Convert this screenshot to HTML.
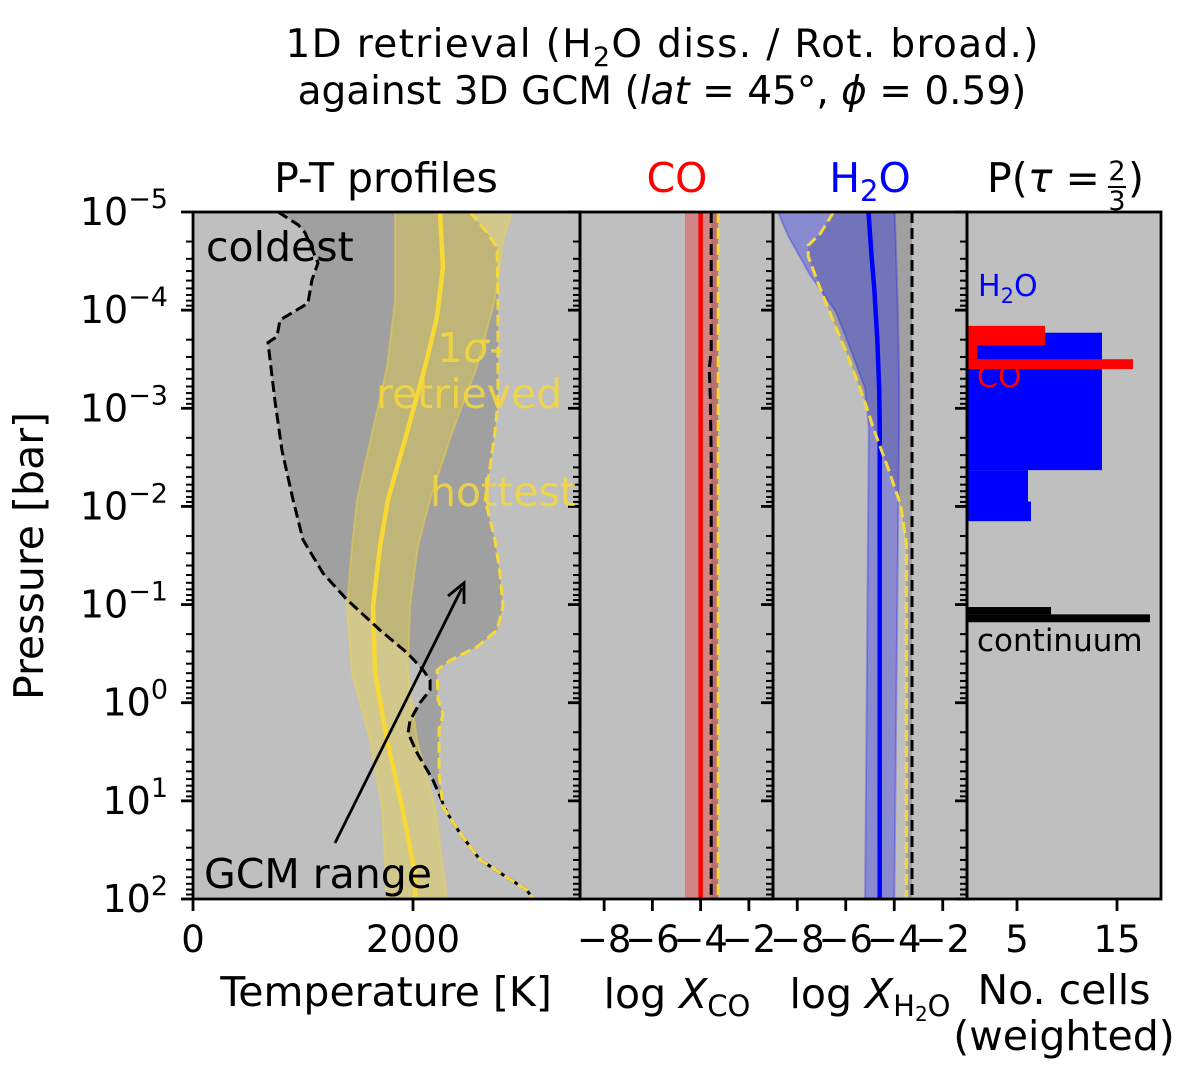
<!DOCTYPE html>
<html><head><meta charset="utf-8"><style>
html,body{margin:0;padding:0;background:#fff;overflow:hidden;}
svg{display:block;font-family:"DejaVu Sans","Liberation Sans",sans-serif;}
</style></head><body>
<svg id="fig" width="1185" height="1083" viewBox="0 0 1185 1083" xmlns="http://www.w3.org/2000/svg">
<g id="bg"></g><g id="marks"></g><g id="axes"></g><g id="labels"></g>
<g id="static">
<text x="662" y="57" text-anchor="middle" font-size="39" textLength="753">1D retrieval (H<tspan font-size="27" dy="9">2</tspan><tspan dy="-9">O diss. / Rot. broad.)</tspan></text>
<text x="662" y="104" text-anchor="middle" font-size="39">against 3D GCM (<tspan font-style="italic">lat</tspan> = 45°, <tspan font-style="italic">ϕ</tspan> = 0.59)</text>
<text x="386" y="192" text-anchor="middle" font-size="41">P-T profiles</text>
<text x="677" y="192" text-anchor="middle" font-size="41" fill="#ff0000">CO</text>
<text x="870" y="192" text-anchor="middle" font-size="41" fill="#0000ff">H<tspan font-size="29" dy="9">2</tspan><tspan dy="-9">O</tspan></text>
<text x="987" y="192" font-size="41">P(<tspan font-style="italic">τ</tspan> =</text>
<text x="1117" y="180" text-anchor="middle" font-size="27">2</text>
<line x1="1108" x2="1126" y1="187" y2="187" stroke="#000" stroke-width="2"/>
<text x="1117" y="210" text-anchor="middle" font-size="27">3</text>
<text x="1128" y="192" font-size="41">)</text>
<text x="43" y="556" text-anchor="middle" font-size="41" transform="rotate(-90 43 556)">Pressure [bar]</text>
<text x="386" y="1006" text-anchor="middle" font-size="41">Temperature [K]</text>
<text x="677" y="1008" text-anchor="middle" font-size="41">log <tspan font-style="italic">X</tspan><tspan font-size="29" dy="8">CO</tspan></text>
<text x="870" y="1008" text-anchor="middle" font-size="41">log <tspan font-style="italic">X</tspan><tspan font-size="29" dy="8">H</tspan><tspan font-size="20" dy="5">2</tspan><tspan font-size="29" dy="-5">O</tspan></text>
<text x="1064" y="1004" text-anchor="middle" font-size="41">No. cells</text>
<text x="1064" y="1050" text-anchor="middle" font-size="41">(weighted)</text>
</g>
<g id="annot">
<text x="206" y="261" font-size="41">coldest</text>
<text x="437" y="362" font-size="41" fill="#f5d83a" fill-opacity="0.85">1<tspan font-style="italic">σ</tspan>-</text>
<text x="376" y="408" font-size="41" fill="#f5d83a" fill-opacity="0.85">retrieved</text>
<text x="430" y="506" font-size="41" fill="#f5d83a" fill-opacity="0.85">hottest</text>
<text x="204" y="888" font-size="41">GCM range</text>
<line x1="335" y1="843" x2="462" y2="588" stroke="#000" stroke-width="2.8"/>
<polyline points="448,596 464,583 464,604" fill="none" stroke="#000" stroke-width="2.8"/>
<text x="978" y="296" font-size="30" fill="#0000ff">H<tspan font-size="21" dy="7">2</tspan><tspan dy="-7">O</tspan></text>
<text x="977" y="387" font-size="30" fill="#ff0000">CO</text>
<text x="977" y="651" font-size="31">continuum</text>
</g>
</svg>
<script>
// ---- data ----
const coldP=[-5,-4.87,-4.79,-4.48,-4.31,-4.07,-3.9,-3.73,-3.67,-3.08,-2.57,-2.07,-1.66,-1.32,-1.05,-0.74,-0.51,-0.35,-0.23,-0.13,0.0,0.18,0.31,0.51,0.79,1.12,1.33,1.6,1.78,1.91,2];
const coldT=[773,955,1018,1136,1082,1045,791,764,682,745,809,909,1000,1182,1400,1700,1945,2082,2155,2155,2064,1973,1955,2036,2182,2309,2427,2609,2855,3036,3090];
const hotP=[-5,-4.79,-4.64,-4.1,-3.08,-2.75,-2.4,-2.07,-1.66,-1.32,-0.98,-0.74,-0.57,-0.43,-0.33,-0.03,0.11,0.28,0.72,1.06,1.12,1.33,1.6,1.78,1.91,2];
const hotT=[2518,2673,2764,2773,2773,2745,2700,2655,2745,2791,2818,2764,2582,2336,2218,2227,2273,2236,2236,2273,2309,2427,2609,2855,3036,3090];
const medP=[-5,-4.44,-3.93,-3.42,-2.75,-2.07,-1.59,-0.98,-0.3,0.38,1.06,1.74,2];
const medT=[2245,2273,2218,2109,1945,1773,1700,1636,1655,1764,1900,2018,2018];
const sigP=[-5,-4.7,-4.1,-3.42,-2.75,-2.07,-1.59,-0.98,-0.3,0.38,1.06,2];
const sigLo=[1836,1836,1836,1764,1627,1491,1445,1400,1445,1609,1718,1764];
const sigHi=[2900,2818,2745,2582,2355,2155,2045,1973,1955,2036,2200,2309];
const coP=[-5,-3.6,-3.4,-3.1,-2.5,-1.5,2];
const coCold=[-3.56,-3.56,-3.64,-3.6,-3.56,-3.56,-3.56];
const coHot=[-3.27,-3.27,-3.27,-3.27,-3.27,-3.27,-3.27];
const coMed=-4.0, coLo=-4.65, coHi=-3.28;
const h2oColdP=[-5,2];
const h2oCold=[-3.27,-3.27];
const h2oHotP=[-5,-4.78,-4.66,-4.55,-4.27,-3.88,-3.49,-3.06,-2.79,-2.4,-2.01,-1.62,2];
const h2oHot=[-6.5,-7.05,-7.55,-7.55,-7.13,-6.5,-5.85,-5.2,-4.85,-4.27,-3.73,-3.5,-3.5];
const h2oSigP=[-5,-4.76,-4.37,-3.98,-3.6,-3.2,-2.8,2];
const h2oLo=[-8.8,-8.38,-7.5,-6.4,-5.8,-5.2,-5.05,-5.2];
const h2oHi=[-3.98,-3.95,-3.9,-3.85,-3.82,-3.8,-3.8,-4.0];
const h2oMedP=[-5,-4.6,-4.2,-3.7,-3.2,-2.8,2];
const h2oMed=[-5.06,-4.95,-4.82,-4.7,-4.62,-4.6,-4.6];
const histH2OEdges=[-3.77,-2.37,-2.05,-1.85];
const histH2O=[13.5,6.1,6.4];
const histCOEdges=[-3.84,-3.64,-3.50,-3.40];
const histCO=[7.8,1.0,16.6];
const histContEdges=[-0.975,-0.90,-0.82];
const histCont=[8.4,18.3];
const yTicks=[-5,-4,-3,-2,-1,0,1,2];
const tTicks=[0,2000];
const xTicks=[-8,-6,-4,-2];
const nTicks=[5,15];

// ---- scales ----
const TOP=212,BOT=899;
const Y=lp=>TOP+(lp+5)*(BOT-TOP)/7;
const X1=t=>193+t*0.11;
const X2=v=>580+(v+9)*193/8;
const X3=v=>773+(v+9)*194/8;
const X4=n=>967+n*10;
const NS='http://www.w3.org/2000/svg';
function mk(tag,attrs,parent){const e=document.createElementNS(NS,tag);for(const k in attrs)e.setAttribute(k,attrs[k]);document.getElementById(parent).appendChild(e);return e;}
const pts=(P,V,sx)=>P.map((p,i)=>sx(V[i]).toFixed(1)+','+Y(p).toFixed(1));
const rev=a=>a.slice().reverse();

const panels=[[193,580],[580,773],[773,967],[967,1161]];
panels.forEach((p,i)=>{
  const r=mk('rect',{x:p[0],y:TOP,width:p[1]-p[0],height:BOT-TOP,fill:'#bfbfbf'},'bg');
  
  
});
const defs=mk('defs',{},'bg');
panels.forEach((p,i)=>{const c=document.createElementNS(NS,'clipPath');c.setAttribute('id','c'+i);const r=document.createElementNS(NS,'rect');r.setAttribute('x',p[0]);r.setAttribute('y',TOP);r.setAttribute('width',p[1]-p[0]);r.setAttribute('height',BOT-TOP);c.appendChild(r);defs.appendChild(c);});

let e;
e=mk('polygon',{points:pts(coldP,coldT,X1).concat(rev(pts(hotP,hotT,X1))).join(' '),fill:'#a0a0a0','clip-path':'url(#c0)'},'marks');

e=mk('polygon',{points:pts(sigP,sigLo,X1).concat(rev(pts(sigP,sigHi,X1))).join(' '),fill:'#f5d83a','fill-opacity':0.38,stroke:'#f5d83a','stroke-opacity':0.4,'stroke-width':2,'clip-path':'url(#c0)'},'marks');

e=mk('polyline',{points:pts(medP,medT,X1).join(' '),fill:'none',stroke:'#f7d835','stroke-width':4.5,'clip-path':'url(#c0)'},'marks');

e=mk('polyline',{points:pts(coldP,coldT,X1).join(' '),fill:'none',stroke:'#000','stroke-width':3,'stroke-dasharray':'11,5','clip-path':'url(#c0)'},'marks');

e=mk('polyline',{points:pts(hotP,hotT,X1).join(' '),fill:'none',stroke:'#f5d83a','stroke-width':3,'stroke-dasharray':'11,5','clip-path':'url(#c0)'},'marks');


e=mk('polygon',{points:pts(coP,coCold,X2).concat(rev(pts(coP,coHot,X2))).join(' '),fill:'#a0a0a0'},'marks');

e=mk('rect',{x:X2(coLo),y:TOP,width:X2(coHi)-X2(coLo),height:BOT-TOP,fill:'#ff0000','fill-opacity':0.3},'marks');

e=mk('line',{x1:X2(coMed),x2:X2(coMed),y1:TOP,y2:BOT,stroke:'#ff0000','stroke-width':4.5},'marks');

e=mk('polyline',{points:pts(coP,coCold,X2).join(' '),fill:'none',stroke:'#000','stroke-width':3,'stroke-dasharray':'11,5'},'marks');

e=mk('polyline',{points:pts(coP,coHot,X2).join(' '),fill:'none',stroke:'#f5d83a','stroke-width':3,'stroke-dasharray':'11,5'},'marks');


e=mk('polygon',{points:pts(h2oHotP,h2oHot,X3).concat(rev(pts(h2oColdP,h2oCold,X3))).join(' '),fill:'#a0a0a0','clip-path':'url(#c2)'},'marks');

e=mk('polygon',{points:pts(h2oSigP,h2oLo,X3).concat(rev(pts(h2oSigP,h2oHi,X3))).join(' '),fill:'#0000ff','fill-opacity':0.28,stroke:'#0000ff','stroke-opacity':0.25,'stroke-width':2,'clip-path':'url(#c2)'},'marks');

e=mk('polyline',{points:pts(h2oMedP,h2oMed,X3).join(' '),fill:'none',stroke:'#0000ff','stroke-width':4.5,'clip-path':'url(#c2)'},'marks');

e=mk('polyline',{points:pts(h2oColdP,h2oCold,X3).join(' '),fill:'none',stroke:'#000','stroke-width':3,'stroke-dasharray':'11,5'},'marks');

e=mk('polyline',{points:pts(h2oHotP,h2oHot,X3).join(' '),fill:'none',stroke:'#f5d83a','stroke-width':3,'stroke-dasharray':'11,5','clip-path':'url(#c2)'},'marks');


function hist(edges,counts,color,name){
  counts.forEach((n,i)=>{
    const y1=Y(edges[i]),y2=Y(edges[i+1]);
    const r=mk('rect',{x:X4(0),y:y1,width:X4(n)-X4(0),height:y2-y1,fill:color},'marks');
    
    
  });
}
hist(histH2OEdges,histH2O,'#0000ff','h2o-histogram-bar');
hist(histCOEdges,histCO,'#ff0000','co-histogram-bar');
hist(histContEdges,histCont,'#000000','continuum-histogram-bar');

panels.forEach((p,i)=>{
  const r=mk('rect',{x:p[0],y:TOP,width:p[1]-p[0],height:BOT-TOP,fill:'none',stroke:'#000','stroke-width':2.8},'axes');
  
  
  for(let d=-5;d<2;d++){for(let m=2;m<10;m++){const yy=Y(d+Math.log10(m));
    const t=mk('line',{x1:p[0]-7,x2:p[0],y1:yy,y2:yy,stroke:'#000','stroke-width':2},'axes');
    }}
  yTicks.forEach(v=>{const t=mk('line',{x1:p[0]-12,x2:p[0],y1:Y(v),y2:Y(v),stroke:'#000','stroke-width':2.8},'axes');
    });
});
function xt(x,label,name){
  const t=mk('line',{x1:x,x2:x,y1:BOT,y2:BOT+12,stroke:'#000','stroke-width':2.8},'axes');
  
  const l=mk('text',{x:x,y:BOT+53,'text-anchor':'middle','font-size':37},'labels');
  l.textContent=label;
  
}
tTicks.forEach(v=>xt(X1(v),String(v),'temperature'));
xTicks.forEach(v=>xt(X2(v),'\u2212'+Math.abs(v),'log-xco'));
xTicks.forEach(v=>xt(X3(v),'\u2212'+Math.abs(v),'log-xh2o'));
nTicks.forEach(v=>xt(X4(v),String(v),'cells'));
yTicks.forEach(v=>{
  const l=mk('text',{x:168,y:Y(v)+13,'text-anchor':'end','font-size':38},'labels');
  l.innerHTML='10<tspan dy="-17" font-size="27">'+(v<0?'\u2212':'')+Math.abs(v)+'</tspan>';
  
});
</script>
</body></html>
